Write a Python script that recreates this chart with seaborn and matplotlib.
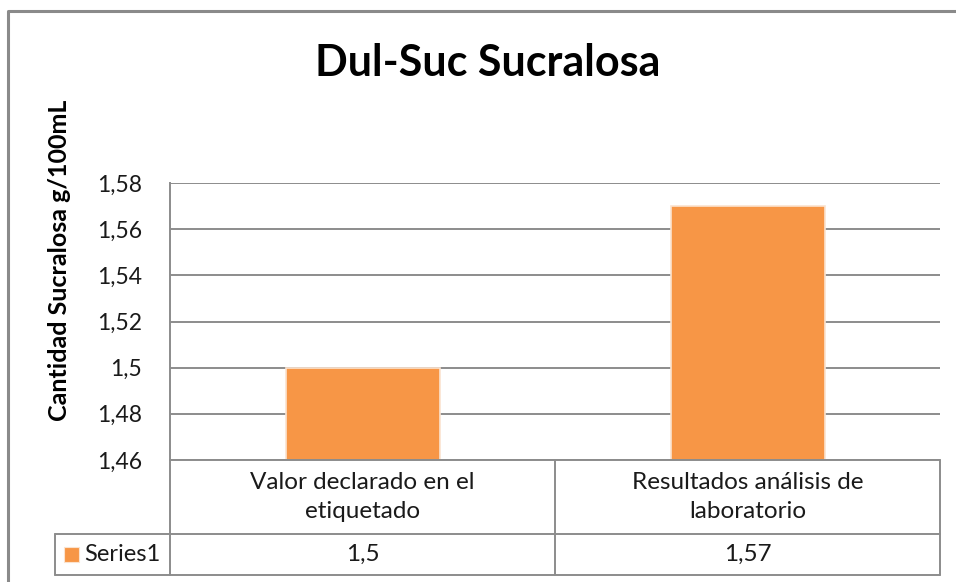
import matplotlib
matplotlib.use("Agg")
import matplotlib.pyplot as plt
import matplotlib.transforms as mtransforms
from matplotlib.lines import Line2D
from matplotlib.patches import Rectangle
import seaborn as sns
import pandas as pd

categories = ["Valor declarado en el\netiquetado", "Resultados análisis de\nlaboratorio"]
values = [1.5, 1.57]
series_name = "Series1"
y_ticks = [1.46, 1.48, 1.50, 1.52, 1.54, 1.56, 1.58]

title = "Dul-Suc Sucralosa"
y_label = "Cantidad Sucralosa g/100mL"

bar_color = "#F79646"
grid_color = "#8C8C8C"
text_color = "#1A1A1A"

sns.set_theme(style="white")
plt.rcParams["font.family"] = ["Lato", "DejaVu Sans"]


def comma(v):
    return f"{v:g}".replace(".", ",")


df = pd.DataFrame({"cat": categories, "val": values})

W, H = 956, 582
fig = plt.figure(figsize=(W / 100, H / 100), dpi=100)
ax = fig.add_axes([170 / W, 1 - 460 / H, (940 - 170) / W, (460 - 183) / H])

sns.barplot(data=df, x="cat", y="val", color=bar_color, width=0.4,
            edgecolor="#FBE3CF", linewidth=1.2, saturation=1, ax=ax, zorder=3)

ax.set_ylim(y_ticks[0], y_ticks[-1])
ax.set_xlim(-0.5, len(categories) - 0.5)
ax.set_yticks(y_ticks)
ax.set_yticklabels([comma(v) for v in y_ticks], fontsize=16.5, color=text_color)
ax.tick_params(axis="y", length=0, pad=20)
ax.set_xticks([])
ax.set_xlabel("")
ax.set_ylabel("")
ax.yaxis.grid(True, color=grid_color, linewidth=1.4, zorder=0)
for s in ["top", "right", "bottom"]:
    ax.spines[s].set_visible(False)
ax.spines["left"].set_color(grid_color)
ax.spines["left"].set_linewidth(1.4)

# data table below the axes
ax_bottom = 460
row1 = 534
row2 = 575


def fy(py):
    return 1 - py / H


def fx(px):
    return px / W


table_lines = [
    ((170, 940), (ax_bottom, ax_bottom)),
    ((55, 940), (row1, row1)),
    ((55, 940), (row2, row2)),
    ((170, 170), (ax_bottom, row2)),
    ((940, 940), (ax_bottom, row2)),
    ((55, 55), (row1, row2)),
]
for xs, ys in table_lines:
    fig.add_artist(Line2D([fx(x) for x in xs], [fy(y) for y in ys],
                          color=grid_color, linewidth=1.4))

# category boundaries come from the axis scale
trans = mtransforms.blended_transform_factory(ax.transData, fig.transFigure)
for i in range(len(categories) - 1):
    b = i + 0.5
    ax.add_line(Line2D([b, b], [fy(ax_bottom), fy(row2)], transform=trans,
                       color=grid_color, linewidth=1.4, clip_on=False))

for i, (c, v) in enumerate(zip(categories, values)):
    ax.text(i, fy((ax_bottom + row1) / 2), c, transform=trans, ha="center",
            va="center", fontsize=17.5, color=text_color, linespacing=1.5)
    ax.text(i, fy((row1 + row2) / 2), comma(v), transform=trans, ha="center",
            va="center", fontsize=17.5, color=text_color)

fig.add_artist(Rectangle((fx(64), fy(562)), 15 / W, 15 / H, transform=fig.transFigure,
                         facecolor=bar_color, edgecolor="#FBE3CF", linewidth=0.8))
fig.text(fx(84), fy((row1 + row2) / 2), series_name, ha="left", va="center",
         fontsize=17, color=text_color)

# title and y label
fig.text(fx(488), fy(63), title, ha="center", va="center", fontsize=31,
         fontweight="bold", color="black")
fig.text(fx(60), fy(260), y_label, ha="center", va="center", rotation=90,
         fontsize=18, fontweight="bold", color="black")

# outer chart border (partly cut off in the reference)
fig.add_artist(Line2D([fx(8), fx(8), fx(956)], [fy(582), fy(11), fy(11)],
                      color="#8A8A8A", linewidth=2.2))

fig.savefig("out.png", dpi=100, facecolor="white")
